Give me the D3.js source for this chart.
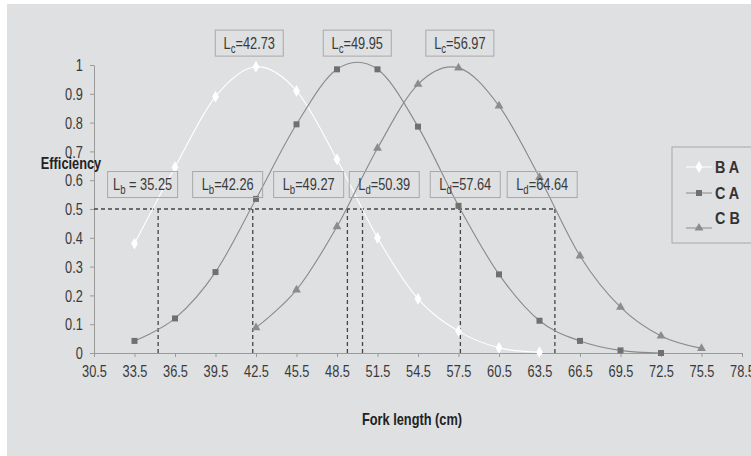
<!DOCTYPE html>
<html>
<head>
<meta charset="utf-8">
<script src="https://cdn.jsdelivr.net/npm/d3@7/dist/d3.min.js"></script>
<style>
body{margin:0;background:#fff;}
svg{display:block;font-family:"Liberation Sans",Arial,sans-serif;}
</style>
</head>
<body>
<svg></svg>
<script>
var width = 751;
var height = 456;
// fork length classes (cm)
var lengths = [33.5,36.5,39.5,42.5,45.5,48.5,51.5,54.5,57.5,60.5,63.5,66.5,69.5,72.5,75.5];
var xTicks = [30.5,33.5,36.5,39.5,42.5,45.5,48.5,51.5,54.5,57.5,60.5,63.5,66.5,69.5,72.5,75.5,78.5];
var yTicks = [0,0.1,0.2,0.3,0.4,0.5,0.6,0.7,0.8,0.9,1];
// efficiency per series (null = no point)
var seriesBA = [0.38,0.645,0.89,0.994,0.91,0.672,0.40,0.188,0.076,0.018,0.003,null,null,null,null];
var seriesCA = [0.042,0.12,0.281,0.535,0.794,0.985,0.985,0.786,0.511,0.273,0.112,0.042,0.009,0.0,null];
var seriesCB = [null,null,null,0.088,0.219,0.439,0.711,0.933,0.99,0.858,0.61,0.337,0.159,0.059,0.016];
// 50% points and modes
var dValues = [35.25,42.26,49.27,50.39,57.64,64.64];
var dLabels = ["b","b","b","d","d","d"];
var dText = [" = 35.25","=42.26","=49.27","=50.39","=57.64","=64.64"];
var dBoxAt = [34.1,40.4,46.4,52.0,58.0,63.7];
var cText = ["=42.73","=49.95","=56.97"];
var cBoxAt = [42.0,50.0,57.6];

var narrow = "scale(0.8,1)";

var svg = d3.select("svg").attr("width",width).attr("height",height);

//grey panel
svg.append("rect").attr("x",7).attr("y",4).attr("width",width-7).attr("height",height-4)
    .attr("fill","#dfe0e2");

var x = d3.scaleLinear().domain([30.5,78.5]).range([94,742]);
var y = d3.scaleLinear().domain([0,1]).range([353,65]);

//axes
var xAxis = d3.axisBottom(x).tickValues(xTicks).tickFormat(d3.format(".1f")).tickSize(4).tickSizeOuter(0);
var yAxis = d3.axisLeft(y).tickValues(yTicks).tickFormat(d => d).tickSize(4).tickSizeOuter(0);
var gx = svg.append("g").attr("transform","translate(0,"+y(0)+")").call(xAxis);
var gy = svg.append("g").attr("transform","translate("+x(30.5)+",0)").call(yAxis);
[gx,gy].forEach(g => {
    g.selectAll("path,line").attr("stroke","#9a9a9a");
    g.selectAll("text").attr("fill","#3a3a3a").style("font-size","16px").attr("transform",narrow);
});
gx.selectAll("text").attr("dy","1.05em");
gy.selectAll("text").attr("x",-14).attr("dy","0.35em");

//dashed 50% lines
var dash = svg.append("g").attr("stroke","#444").attr("stroke-width",1.3).attr("stroke-dasharray","4,3");
dash.append("line").attr("x1",x(30.5)).attr("x2",x(d3.max(dValues)))
    .attr("y1",y(0.5)).attr("y2",y(0.5));
dash.selectAll(".v").data(dValues).enter().append("line")
    .attr("x1",d => x(d)).attr("x2",d => x(d))
    .attr("y1",y(0.5)).attr("y2",y(0));

//curves
var line = d3.line()
    .x(d => x(d[0])).y(d => y(d[1]))
    .curve(d3.curveCardinal.tension(0));
function pts(s){ return lengths.map((l,i) => [l,s[i]]).filter(d => d[1] !== null); }
var series = [
    {name:"B A", vals:seriesBA, stroke:"#ffffff", fill:"#ffffff", shape:d3.symbolDiamond, size:40},
    {name:"C A", vals:seriesCA, stroke:"#8a8a8a", fill:"#707070", shape:d3.symbolSquare, size:36},
    {name:"C B", vals:seriesCB, stroke:"#8a8a8a", fill:"#8c8c8c", shape:d3.symbolTriangle, size:34}
];
series.forEach(s => {
    svg.append("path").datum(pts(s.vals)).attr("d",line)
        .attr("fill","none").attr("stroke",s.stroke).attr("stroke-width",1.1);
    svg.selectAll(null).data(pts(s.vals)).enter().append("path")
        .attr("d",d3.symbol().type(s.shape).size(s.size))
        .attr("transform",d => "translate("+x(d[0])+","+y(d[1])+")")
        .attr("fill",s.fill);
});

//label boxes
function box(cx, cy, sub, txt, w){
    var g = svg.append("g").attr("transform","translate("+cx+","+cy+")");
    g.append("rect").attr("x",-w/2).attr("y",-13).attr("width",w).attr("height",26)
        .attr("fill","none").attr("stroke","#a8a8a8").attr("stroke-width",1);
    var t = g.append("text").attr("text-anchor","middle").attr("dy","0.36em")
        .attr("transform",narrow).attr("fill","#3a3a3a").style("font-size","16px");
    t.append("tspan").text("L");
    t.append("tspan").text(sub).attr("dy",4).style("font-size","12px");
    t.append("tspan").text(txt).attr("dy",-4);
}
cText.forEach((t,i) => box(x(cBoxAt[i]), y(1.076), "c", t, 68));
dText.forEach((t,i) => box(x(dBoxAt[i]), y(0.585), dLabels[i], t, 70));

//axis titles
function title(px, py, txt){
    svg.append("g").attr("transform","translate("+px+","+py+")")
        .append("text").attr("text-anchor","middle").attr("transform",narrow)
        .style("font-size","16px").style("font-weight","bold").attr("fill","#222").text(txt);
}
title(71,169,"Efficiency");
title(412,425,"Fork length (cm)");

//legend
var lg = svg.append("g");
lg.append("rect").attr("x",672).attr("y",147).attr("width",90).attr("height",96)
    .attr("fill","none").attr("stroke","#a8a8a8");
var legY = [167,193,228];
var legTextY = [167,193,218];
series.forEach((s,i) => {
    lg.append("line").attr("x1",686).attr("x2",712).attr("y1",legY[i]).attr("y2",legY[i])
        .attr("stroke",s.stroke).attr("stroke-width",1);
    lg.append("path").attr("d",d3.symbol().type(s.shape).size(s.size))
        .attr("transform","translate(699,"+legY[i]+")").attr("fill",s.fill);
    lg.append("g").attr("transform","translate(715,"+legTextY[i]+")")
        .append("text").attr("dy","0.35em").attr("transform","scale(0.9,1)")
        .style("font-size","16px").style("font-weight","bold").attr("fill","#333").text(s.name);
});
</script>
</body>
</html>
